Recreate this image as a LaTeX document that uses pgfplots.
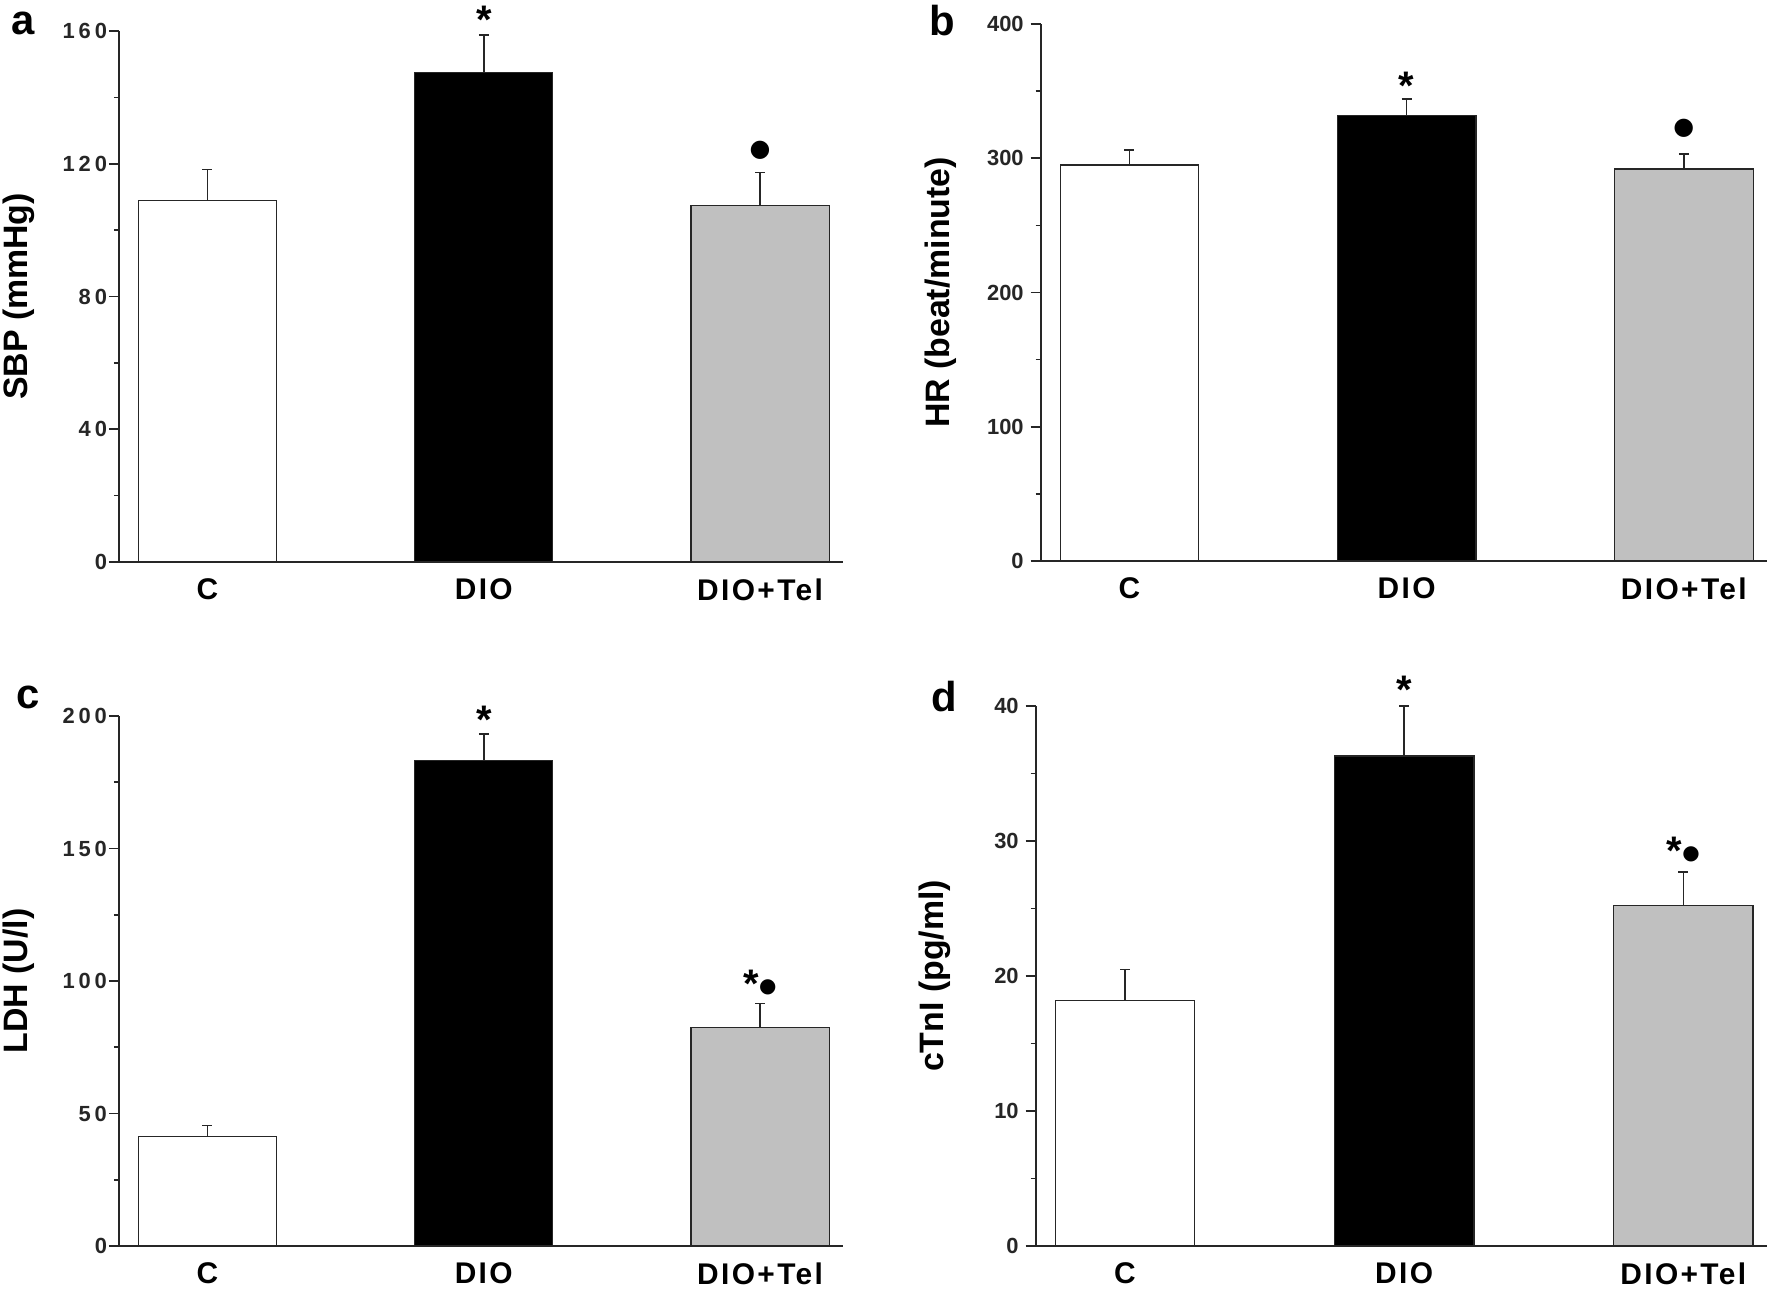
\documentclass[border=0pt]{standalone}
\usepackage{fontspec}
\setmainfont{Liberation Sans}
\newfontfamily\spaced[LetterSpace=18]{Liberation Sans}
\newfontfamily\xlab[LetterSpace=8]{Liberation Sans}
\newfontfamily\dejavu{DejaVu Sans}
\usepackage{pgfplots}
\pgfplotsset{compat=1.18}
\definecolor{telgray}{RGB}{192,192,192}

% one reference pixel = 0.5bp
\pgfplotsset{
  panel/.style={
    scale only axis,
    anchor=south west,
    xmin=-0.32, xmax=2.3,
    ymin=0,
    axis x line*=bottom, axis y line*=left,
    axis line style={line width=0.8bp, black!85, -},
    xtick={0,1,2}, xticklabels={C,DIO,DIO+Tel},
    x tick style={draw=none},
    xticklabel style={font=\xlab\fontsize{15}{18}\selectfont\bfseries},
    yticklabel style={font=\fontsize{11}{12}\selectfont\bfseries, text=black!85},
    /pgf/number format/assume math mode=true,
    tick align=outside,
    y tick style={line width=0.8bp, black!85},
    major tick length=5bp, minor tick length=2.5bp,
    minor y tick num=1,
    ylabel style={font=\fontsize{17}{20}\selectfont\bfseries,
      at={(axis description cs:-0.138,0.5)}, anchor=center},
    clip=false,
    ybar, bar width=0.5, bar shift=0pt,
    every axis plot/.append style={line width=0.6bp, draw=black!85, bar shift=0pt},
    error bars/y dir=plus, error bars/y explicit,
    error bars/error mark=-,
    error bars/error bar style={line width=0.75bp, black!85},
    error bars/error mark options={rotate=90, line width=0.75bp, black!85, mark size=2.5bp},
  },
  spacedticks/.style={yticklabel style={font=\spaced\fontsize{11}{12}\selectfont\bfseries, xshift=2.5bp}},
}
\tikzset{
  sigstar/.style={font=\fontsize{20}{20}\selectfont\bfseries, yshift=-4.5bp},
  sigdot/.style={font=\dejavu\fontsize{12}{12}\selectfont},
  sigboth/.style={font=\fontsize{20}{20}\selectfont\bfseries},
  panelletter/.style={font=\fontsize{21}{21}\selectfont\bfseries},
}
\newcommand{\smalldot}{\raisebox{0.12em}{\dejavu\fontsize{10}{10}\selectfont●}}

\begin{document}
\begin{tikzpicture}
\useasboundingbox (0,0) rectangle (885bp,644.5bp);

% panel a
\begin{axis}[panel, spacedticks, at={(59.5bp,363.5bp)}, width=362bp, height=265.5bp,
    ymax=160, ytick={0,40,80,120,160}, ylabel={SBP (mmHg)}]
  \addplot[fill=white] coordinates {(0,108.9) +- (0,9.4)};
  \addplot[fill=black] coordinates {(1,147.4) +- (0,11.4)};
  \addplot[fill=telgray] coordinates {(2,107.3) +- (0,10.0)};
  \node[sigstar] at (axis cs:1,166) {*};
  \node[sigdot] at (axis cs:2,124) {●};
\end{axis}

% panel b
\begin{axis}[panel, at={(520.35bp,364bp)}, width=363.15bp, height=268.5bp,
    ymax=400, ytick={0,100,200,300,400}, ylabel={HR (beat/minute)}]
  \addplot[fill=white] coordinates {(0,295) +- (0,11)};
  \addplot[fill=black] coordinates {(1,332) +- (0,12)};
  \addplot[fill=telgray] coordinates {(2,292) +- (0,11)};
  \node[sigstar] at (axis cs:1,361) {*};
  \node[sigdot] at (axis cs:2,322) {●};
\end{axis}

% panel c
\begin{axis}[panel, spacedticks, at={(59.5bp,21.5bp)}, width=362bp, height=265bp,
    ymax=200, ytick={0,50,100,150,200}, ylabel={LDH (U/l)}]
  \addplot[fill=white] coordinates {(0,41.4) +- (0,4.0)};
  \addplot[fill=black] coordinates {(1,183.3) +- (0,9.9)};
  \addplot[fill=telgray] coordinates {(2,82.6) +- (0,8.9)};
  \node[sigstar] at (axis cs:1,202) {*};
  \node[sigboth] at (axis cs:2,99) {*\smalldot};
\end{axis}

% panel d
\begin{axis}[panel, at={(517.85bp,21.5bp)}, width=365.65bp, height=270bp,
    ymax=40, ytick={0,10,20,30,40}, ylabel={cTnI (pg/ml)}]
  \addplot[fill=white] coordinates {(0,18.2) +- (0,2.3)};
  \addplot[fill=black] coordinates {(1,36.3) +- (0,3.7)};
  \addplot[fill=telgray] coordinates {(2,25.2) +- (0,2.5)};
  \node[sigstar] at (axis cs:1,41.9) {*};
  \node[sigboth] at (axis cs:2,29.3) {*\smalldot};
\end{axis}

\node[panelletter] at (11.5bp,633bp) {a};
\node[panelletter] at (471bp,634bp) {b};
\node[panelletter] at (14bp,296bp) {c};
\node[panelletter] at (472bp,296bp) {d};
\end{tikzpicture}
\end{document}
